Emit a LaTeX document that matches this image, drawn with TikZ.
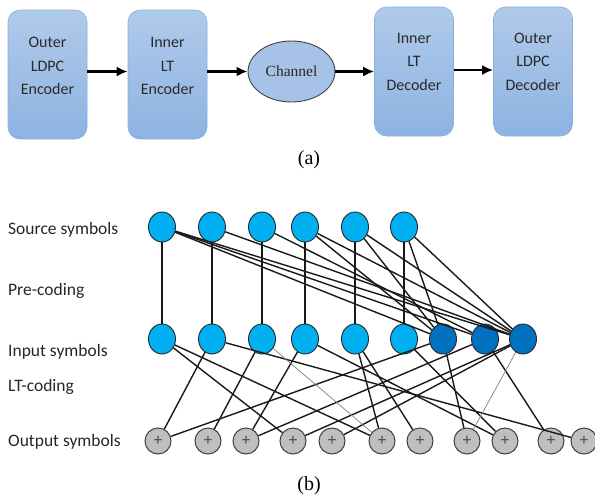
\documentclass[tikz,border=0pt]{standalone}
\usepackage{fontspec}
\setmainfont{Liberation Serif}
\newfontfamily\calfont{Carlito}
\newfontfamily\plusfont{Liberation Sans}
\usetikzlibrary{shapes.geometric,arrows.meta}
\definecolor{boxtop}{HTML}{B0CAEA}
\definecolor{boxbot}{HTML}{8DB3E2}
\definecolor{boxline}{HTML}{8AAEDB}
\definecolor{boxtext}{HTML}{2A2A2A}
\definecolor{chanfill}{HTML}{A6C3E7}
\definecolor{lightnode}{HTML}{00B0F0}
\definecolor{darknode}{HTML}{0070C0}
\definecolor{outfill}{HTML}{BFBFBF}
\definecolor{outline}{HTML}{404040}
\begin{document}
\begin{tikzpicture}[x=1pt,y=-1pt,
  blockbox/.style={draw=boxline, line width=0.6pt, rounded corners=12pt,
    minimum width=79pt, minimum height=129pt, top color=boxtop, bottom color=boxbot, inner sep=0pt},
  blocktext/.style={font=\calfont\fontsize{16}{23.5}\selectfont, text=boxtext, align=center, inner sep=0pt},
  chan/.style={ellipse, draw=black!75, line width=0.9pt, fill=chanfill, minimum width=87pt, minimum height=61pt, inner sep=0pt,
    font=\fontsize{15.5}{18}\selectfont, text=boxtext},
  arr/.style={-{Latex[length=11pt,width=10pt]}, line width=2.2pt},
  lbl/.style={font=\calfont\fontsize{17.5}{20}\selectfont, text=black!85, inner sep=0pt, anchor=base west},
  capt/.style={font=\fontsize{20}{22}\selectfont, inner sep=0pt},
  sym/.style={ellipse, draw=black!85, line width=0.9pt, minimum width=27pt, minimum height=30pt, inner sep=0pt},
  srcnode/.style={sym, fill=lightnode},
  darksym/.style={sym, fill=darknode},
  outnode/.style={circle, draw=outline, line width=1pt, fill=outfill, minimum size=26pt, inner sep=0pt,
    font=\plusfont\fontsize{16}{16}\selectfont, text=black!70},
  edge/.style={line width=1.4pt, black!90},
  thinedge/.style={line width=0.7pt, black!50}
]
\useasboundingbox (0,0) rectangle (595,499);

% ---------- (a) ----------
\node[blockbox] (b1) at (47.5,74.5) {};
\node[blockbox] (b2) at (167.5,74.5) {};
\node[blockbox] (b3) at (414,71.5) {};
\node[blockbox] (b4) at (533,71.5) {};
\node[blocktext] (t1) at (47.5,66) {Outer\\LDPC\\Encoder};
\node[blocktext] (t2) at (167.5,66) {Inner\\LT\\Encoder};
\node[blocktext] (t3) at (414,61.5) {Inner\\LT\\Decoder};
\node[blocktext] (t4) at (533,61.5) {Outer\\LDPC\\Decoder};
\node[chan] (ch) at (291.5,71.5) {Channel};

\draw[arr] (b1.east |- ch) -- (b2.west |- ch);
\draw[arr] (b2.east |- ch) -- (ch.west);
\draw[arr] (ch.east) -- (b3.west |- ch);
\draw[arr] ([yshift=1.5pt]b3.east |- ch) -- ([yshift=1.5pt]b4.west |- ch);

\node[capt] (capa) at (309,160) {(a)};

% ---------- (b) labels ----------
\node[lbl] (lsrc) at (8,234) {Source symbols};
\node[lbl] (lpre) at (8,295) {Pre-coding};
\node[lbl] (linp) at (8,356) {Input symbols};
\node[lbl] (llt)  at (8,391) {LT-coding};
\node[lbl] (lout) at (8,446) {Output symbols};

% source symbols
\foreach \n/\x in {1/162,2/212,3/262,4/305,5/355,6/404}
  \node[srcnode] (s\n) at (\x,227) {};
% input symbols
\foreach \n/\x in {1/162,2/212,3/262,4/305,5/355,6/404}
  \node[srcnode] (i\n) at (\x,339) {};
\foreach \n/\x in {7/443,8/485,9/523}
  \node[darksym] (i\n) at (\x,339) {};
% output symbols
\foreach \n/\x in {1/158,2/208,3/246,4/293,5/332,6/382,7/420,8/467,9/505,10/551,11/584}
  \node[outnode] (o\n) at (\x,441) {+};

% pre-coding edges
\foreach \n in {1,...,6} \draw[edge] (s\n) -- (i\n);
\foreach \a/\b in {1/7,1/8,1/9,2/9,3/8,4/7,4/9,5/7,5/9,6/7,6/9}
  \draw[edge] (s\a) -- (i\b);
% LT-coding edges
\foreach \a/\b in {1/4,1/6,2/1,2/11,3/2,4/3,4/9,5/6,5/7,6/9,7/1,7/8,8/3,8/10,9/4,9/5}
  \draw[edge] (i\a) -- (o\b);
\draw[thinedge] (i3) -- (o6);
\draw[thinedge] (i9) -- (o8);

\node[capt] (capb) at (309,486) {(b)};
\end{tikzpicture}
\end{document}
